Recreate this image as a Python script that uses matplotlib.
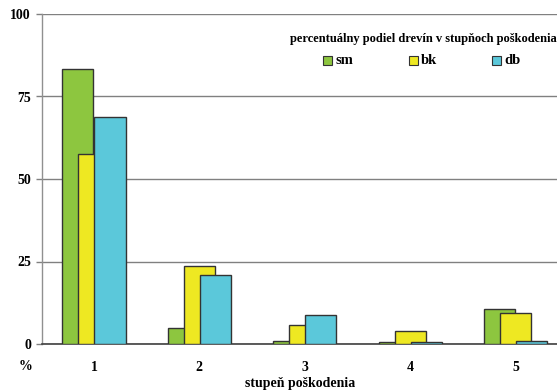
import numpy as np
import matplotlib
matplotlib.use("Agg")
import matplotlib.pyplot as plt
from matplotlib.patches import Rectangle

categories = ["1", "2", "3", "4", "5"]
series_names = ["sm", "bk", "db"]
sm = [83.2, 4.7, 0.8, 0.7, 10.5]
bk = [57.6, 23.5, 5.7, 3.9, 9.4]
db = [68.8, 20.9, 8.7, 0.7, 0.9]
colors = ["#8DC63F", "#EEE822", "#5BC8DA"]
yticks = [0, 25, 50, 75, 100]

plt.rcParams["font.family"] = ["Liberation Serif", "DejaVu Serif"]
plt.rcParams["font.weight"] = "bold"

W, H = 557, 390
fig = plt.figure(figsize=(W / 100, H / 100), dpi=100)
ax = fig.add_axes([42/W, 46/H, 1 - 42/W, 330/H])

x = np.arange(len(categories))
w = 0.295
off = 0.152
for i, (vals, name, c) in enumerate(zip([sm, bk, db], series_names, colors)):
    ax.bar(x + (i - 1) * off, vals, width=w, color=c, edgecolor="#333333",
           linewidth=1.0, label=name, zorder=3 + i)

ax.set_xlim(-0.493, 4.393)
ax.set_ylim(0, 100)
ax.set_yticks(yticks)
ax.set_yticklabels([str(v) for v in yticks], fontsize=10, fontweight="bold")
ax.yaxis.grid(True, color="#808080", linewidth=1.0, zorder=0)
ax.tick_params(axis="y", length=4, color="#808080", width=1, pad=4)

ax.set_xticks(x)
ax.set_xticklabels(categories, fontsize=10, fontweight="bold")
ax.tick_params(axis="x", length=0, pad=12)

for s in ["top", "right"]:
    ax.spines[s].set_visible(False)
ax.spines["left"].set_color("#909090")
ax.spines["left"].set_linewidth(1.0)
ax.spines["bottom"].set_color("#404040")
ax.spines["bottom"].set_linewidth(1.2)

fig.text(26/W, 1 - 367/H, "%", fontsize=10, fontweight="bold", ha="center", va="center")
fig.text(300/W, 1 - 383/H, "stupeň poškodenia", fontsize=10, fontweight="bold",
         ha="center", va="center")

# legend (manual layout)
fig.text(557/W, 1 - 39/H, "percentuálny podiel drevín v stupňoch poškodenia",
         fontsize=9, fontweight="bold", ha="right", va="center")
sq_x = [323, 409, 492]
for sx, name, c in zip(sq_x, series_names, colors):
    fig.patches.append(Rectangle((sx / W, 1 - 65 / H), 9 / W, 9 / H,
                                 transform=fig.transFigure, facecolor=c,
                                 edgecolor="#333333", linewidth=0.8))
    fig.text((sx + 12) / W, 1 - 60.5 / H, name, fontsize=10.5, fontweight="bold",
             ha="left", va="center")

fig.savefig("out.png", dpi=100)
